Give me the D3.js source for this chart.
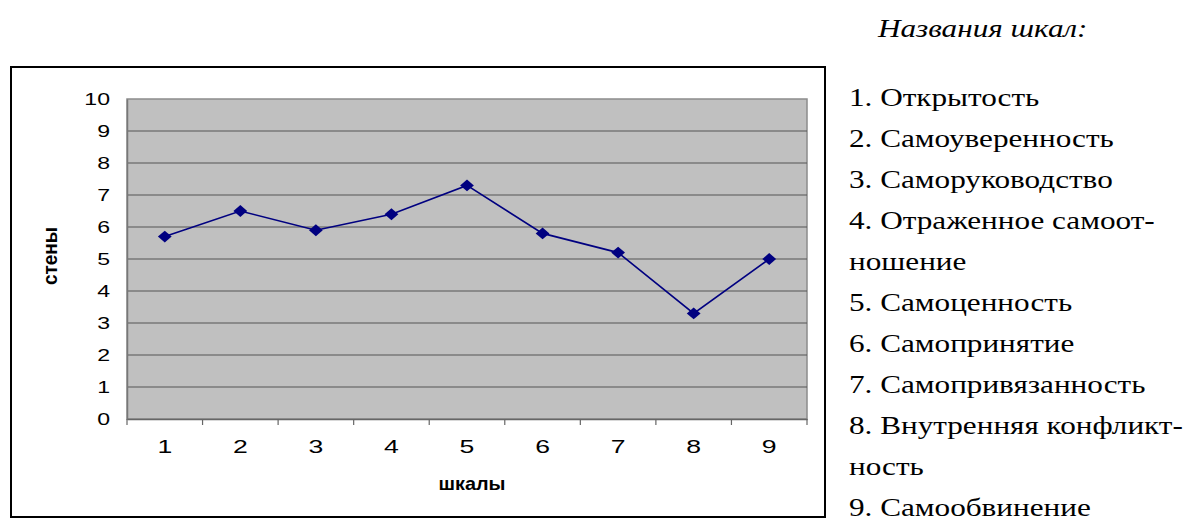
<!DOCTYPE html>
<html lang="ru">
<head>
<meta charset="utf-8">
<title>Шкалы</title>
<script src="https://d3js.org/d3.v7.min.js"></script>
<style>
  body { margin: 0; background: #fff; }
  .sans { font-family: 'Liberation Sans', Arial, sans-serif; }
  .serif { font-family: 'Liberation Serif', 'Times New Roman', serif; }
</style>
</head>
<body>
<svg id="chart"></svg>
<script>
var W = 1195, H = 524;
var categories = ['1', '2', '3', '4', '5', '6', '7', '8', '9'];
var values = [5.7, 6.5, 5.9, 6.4, 7.3, 5.8, 5.2, 3.3, 5.0];
var yTicks = [0, 1, 2, 3, 4, 5, 6, 7, 8, 9, 10];
var legendTitle = 'Названия шкал:';
var legendLines = ['1. Открытость', '2. Самоуверенность', '3. Саморуководство',
  '4. Отраженное самоот-', 'ношение', '5. Самоценность', '6. Самопринятие',
  '7. Самопривязанность', '8. Внутренняя конфликт-', 'ность', '9. Самообвинение'];

var svg = d3.select('#chart').attr('width', W).attr('height', H);

// рамка диаграммы
svg.append('rect').attr('x', 11).attr('y', 67).attr('width', 814).attr('height', 450)
  .attr('fill', '#fff').attr('stroke', '#000').attr('stroke-width', 2);

var plot = {left: 127, right: 807, top: 99, bottom: 419};

var x = d3.scaleBand().domain(categories).range([plot.left, plot.right]);
var y = d3.scaleLinear().domain([0, 10]).range([plot.bottom, plot.top]);

// фон области построения
svg.append('rect').attr('x', plot.left).attr('y', plot.top)
  .attr('width', plot.right - plot.left).attr('height', plot.bottom - plot.top)
  .attr('fill', '#c0c0c0').attr('stroke', '#8c8c8c').attr('stroke-width', 1.5);

// линии сетки
svg.append('g').selectAll('line').data(yTicks.slice(1, -1)).enter().append('line')
  .attr('x1', plot.left).attr('x2', plot.right)
  .attr('y1', d => y(d)).attr('y2', d => y(d))
  .attr('stroke', '#555').attr('stroke-width', 1);

// ось Y (подписи растянуты по горизонтали, как в оригинале)
var ySx = 1.4;
var yAxis = svg.append('g').attr('transform', 'translate(' + plot.left + ',0)')
  .call(d3.axisLeft(y).tickValues(yTicks).tickSize(0).tickPadding(17));
yAxis.attr('font-family', null).attr('font-size', null);
yAxis.select('.domain').attr('stroke', '#777').attr('stroke-width', 1.5);
yAxis.selectAll('text').attr('class', 'sans').style('font-size', '16.5px').attr('fill', '#000')
  .attr('x', -17 / ySx).attr('transform', 'scale(' + ySx + ',1)');

// ось X
var xSx = 1.4;
var xAxis = svg.append('g').attr('transform', 'translate(0,' + plot.bottom + ')')
  .call(d3.axisBottom(x).tickSize(0).tickPadding(21));
xAxis.attr('font-family', null).attr('font-size', null);
xAxis.select('.domain').attr('stroke', '#666').attr('stroke-width', 1.5);
xAxis.selectAll('text').attr('class', 'sans').style('font-size', '19px').attr('fill', '#000')
  .attr('transform', 'scale(' + xSx + ',1)');
var bounds = categories.map(c => x(c)).concat([plot.right]);
svg.append('g').selectAll('line').data(bounds).enter().append('line')
  .attr('x1', d => d).attr('x2', d => d)
  .attr('y1', plot.bottom).attr('y2', plot.bottom + 6)
  .attr('stroke', '#666').attr('stroke-width', 1.2);

// подписи осей
svg.append('text').attr('class', 'sans').attr('transform', 'translate(472,490) scale(1.1,1)')
  .attr('text-anchor', 'middle').style('font-weight', 'bold').style('font-size', '18px').text('шкалы');
svg.append('text').attr('class', 'sans').attr('transform', 'translate(57,256) scale(1.1,1) rotate(-90)')
  .attr('text-anchor', 'middle').style('font-weight', 'bold').style('font-size', '19px').text('стены');

// линия данных
var line = d3.line().x((d, i) => x(categories[i]) + x.bandwidth() / 2).y(d => y(d));
svg.append('path').datum(values).attr('d', line)
  .attr('fill', 'none').attr('stroke', '#000080').attr('stroke-width', 1.6);

svg.append('g').selectAll('path').data(values).enter().append('path')
  .attr('d', d3.symbol().type(d3.symbolDiamond2).size(100))
  .attr('transform', (d, i) => 'translate(' + (x(categories[i]) + x.bandwidth() / 2) + ',' + y(d) + ') scale(1.1,0.95)')
  .attr('fill', '#000080');

// список названий шкал
var lSx = 1.2;
svg.append('text').attr('class', 'serif').attr('transform', 'translate(878,37) scale(' + lSx + ',1)')
  .style('font-style', 'italic').style('font-size', '26px').text(legendTitle);
svg.append('g').selectAll('text').data(legendLines).enter().append('text')
  .attr('class', 'serif')
  .attr('transform', (d, i) => 'translate(849,' + (106 + i * 41) + ') scale(' + lSx + ',1)')
  .style('font-size', '26px').attr('fill', '#000').text(d => d);
</script>
</body>
</html>
